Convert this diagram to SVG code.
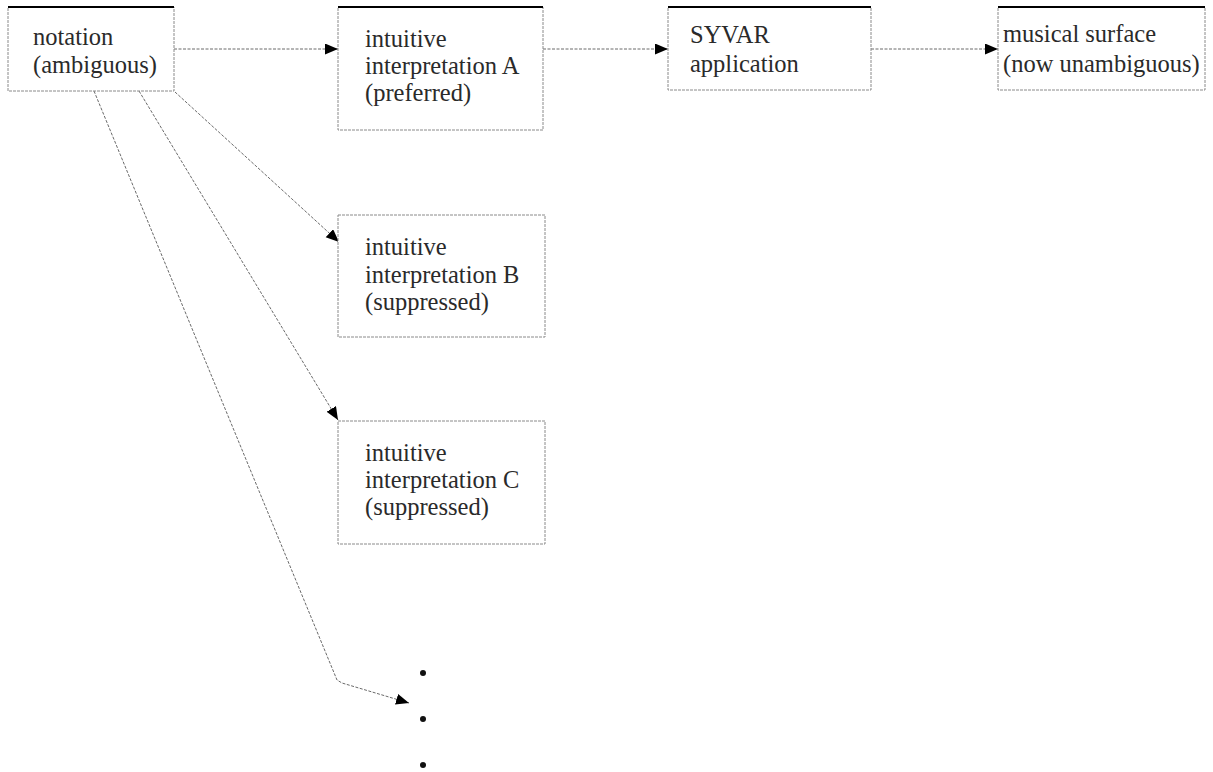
<svg xmlns="http://www.w3.org/2000/svg" width="1213" height="772" viewBox="0 0 1213 772">
<defs>
<marker id="arr" markerUnits="userSpaceOnUse" markerWidth="14" markerHeight="12" refX="13" refY="5.5" orient="auto">
<path d="M0,0 L13,5.5 L0,11 z" fill="#000"/>
</marker>
<style>
.box{fill:#fff;stroke:#8a8a8a;stroke-width:1;stroke-dasharray:3 1}
.top{stroke:#000;stroke-width:2}
.lbl{font-family:"Liberation Serif","Times New Roman",serif;font-size:24.5px;fill:#2a2a2a}
.con{fill:none;stroke:#6a6a6a;stroke-width:1;stroke-dasharray:3 1.5}
</style>
</defs>
<rect width="1213" height="772" fill="#fff"/>
<g id="connectors">
<line class="con" x1="174" y1="49" x2="338" y2="49" marker-end="url(#arr)"/>
<line class="con" x1="543" y1="49" x2="668" y2="49" marker-end="url(#arr)"/>
<line class="con" x1="871" y1="49" x2="998" y2="49" marker-end="url(#arr)"/>
<line class="con" x1="175" y1="92" x2="339" y2="242" marker-end="url(#arr)"/>
<line class="con" x1="139" y1="91" x2="338" y2="420" marker-end="url(#arr)"/>
<polyline class="con" points="94,91 337,680 342,683 409,703" marker-end="url(#arr)"/>
</g>
<g id="notation">
<rect class="box" x="8" y="7" width="166" height="84"/>
<line class="top" x1="8" y1="7" x2="174" y2="7"/>
<text class="lbl" x="33" y="45">notation</text>
<text class="lbl" x="33" y="73">(ambiguous)</text>
</g>
<g id="interpA">
<rect class="box" x="338" y="7" width="205" height="123"/>
<line class="top" x1="338" y1="7" x2="543" y2="7"/>
<text class="lbl" x="365" y="47">intuitive</text>
<text class="lbl" x="365" y="74">interpretation A</text>
<text class="lbl" x="365" y="101">(preferred)</text>
</g>
<g id="syvar">
<rect class="box" x="668" y="7" width="203" height="83"/>
<line class="top" x1="668" y1="7" x2="871" y2="7"/>
<text class="lbl" x="690" y="43">SYVAR</text>
<text class="lbl" x="690" y="72">application</text>
</g>
<g id="surface">
<rect class="box" x="998" y="7" width="207" height="83"/>
<line class="top" x1="998" y1="7" x2="1205" y2="7"/>
<text class="lbl" x="1003" y="42">musical surface</text>
<text class="lbl" x="1003" y="72">(now unambiguous)</text>
</g>
<g id="interpB">
<rect class="box" x="338" y="215" width="207" height="122"/>
<text class="lbl" x="365" y="255">intuitive</text>
<text class="lbl" x="365" y="283">interpretation B</text>
<text class="lbl" x="365" y="310">(suppressed)</text>
</g>
<g id="interpC">
<rect class="box" x="338" y="421" width="207" height="123"/>
<text class="lbl" x="365" y="461">intuitive</text>
<text class="lbl" x="365" y="488">interpretation C</text>
<text class="lbl" x="365" y="515">(suppressed)</text>
</g>
<g id="ellipsis" fill="#111">
<circle cx="423" cy="673" r="3"/>
<circle cx="423" cy="719" r="3"/>
<circle cx="423" cy="765" r="3"/>
</g>
</svg>
